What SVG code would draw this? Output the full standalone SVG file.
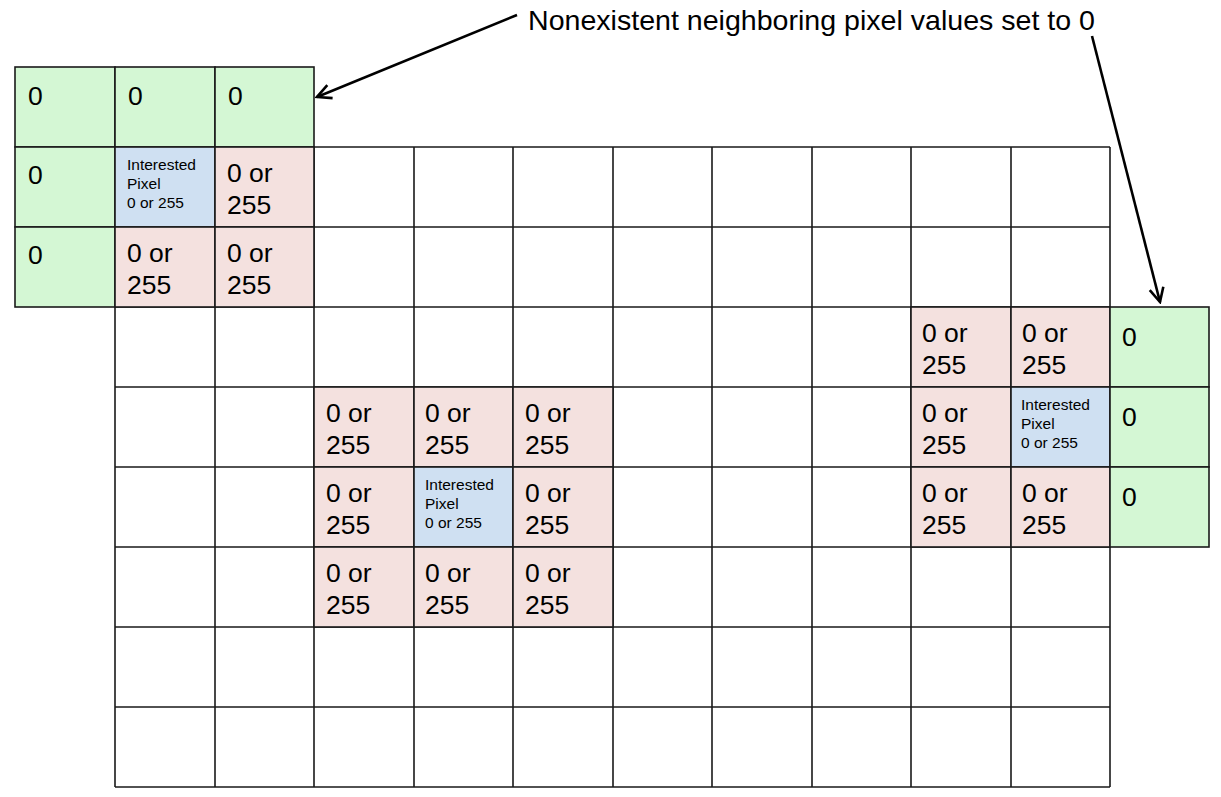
<svg xmlns="http://www.w3.org/2000/svg" width="1221" height="797" viewBox="0 0 1221 797">
<style>
  .g{fill:#d4f7d4;stroke:#1a1a1a;stroke-width:1.6}
  .p{fill:#f4e1df;stroke:#1a1a1a;stroke-width:1.6}
  .b{fill:#cfe0f2;stroke:#1a1a1a;stroke-width:1.6}
  .gl{stroke:#1a1a1a;stroke-width:1.6;fill:none}
  .t{font-family:"Liberation Sans",Arial,sans-serif;font-size:26.5px;fill:#000}
  .s{font-family:"Liberation Sans",Arial,sans-serif;font-size:15.5px;fill:#000}
  .lbl{font-family:"Liberation Sans",Arial,sans-serif;font-size:28px;fill:#000}
  .con{stroke:#000;stroke-width:2.6;fill:none}
</style>
<defs>
  <marker id="ah2" viewBox="0 0 18 18" refX="16" refY="9" markerWidth="18" markerHeight="18" markerUnits="userSpaceOnUse" orient="auto">
    <polyline points="2,2 16,9 2,16" fill="none" stroke="#000" stroke-width="2.6"/>
  </marker>
</defs>
<rect width="1221" height="797" fill="#fff"/>
<g id="grid">
  <path class="gl" d="M115 147V787M215 147V787M314 147V787M414 147V787M513 147V787M613 147V787M712 147V787M812 147V787M911 147V787M1011 147V787M1110 147V787"/>
  <path class="gl" d="M115 147H1110M115 227H1110M115 307H1110M115 387H1110M115 467H1110M115 547H1110M115 627H1110M115 707H1110M115 787H1110"/>
</g>
<g id="topleft">
  <g id="tl-g1"><rect class="g" x="15" y="67" width="100" height="80"/><text class="t" x="28" y="105">0</text></g>
  <g id="tl-g2"><rect class="g" x="115" y="67" width="100" height="80"/><text class="t" x="128" y="105">0</text></g>
  <g id="tl-g3"><rect class="g" x="215" y="67" width="99" height="80"/><text class="t" x="228" y="105">0</text></g>
  <g id="tl-g4"><rect class="g" x="15" y="147" width="100" height="80"/><text class="t" x="28" y="184">0</text></g>
  <g id="tl-g5"><rect class="g" x="15" y="227" width="100" height="80"/><text class="t" x="28" y="264">0</text></g>
  <g id="tl-b"><rect class="b" x="115" y="147" width="100" height="80"/><text class="s" x="127" y="170">Interested</text><text class="s" x="127" y="189">Pixel</text><text class="s" x="127" y="208">0 or 255</text></g>
  <g id="tl-p1"><rect class="p" x="215" y="147" width="99" height="80"/><text class="t" x="227" y="182">0 or</text><text class="t" x="227" y="214">255</text></g>
  <g id="tl-p2"><rect class="p" x="115" y="227" width="100" height="80"/><text class="t" x="127" y="262">0 or</text><text class="t" x="127" y="294">255</text></g>
  <g id="tl-p3"><rect class="p" x="215" y="227" width="99" height="80"/><text class="t" x="227" y="262">0 or</text><text class="t" x="227" y="294">255</text></g>
</g>
<g id="middle">
  <g id="m-p1"><rect class="p" x="314" y="387" width="100" height="80"/><text class="t" x="326" y="422">0 or</text><text class="t" x="326" y="454">255</text></g>
  <g id="m-p2"><rect class="p" x="414" y="387" width="99" height="80"/><text class="t" x="425" y="422">0 or</text><text class="t" x="425" y="454">255</text></g>
  <g id="m-p3"><rect class="p" x="513" y="387" width="100" height="80"/><text class="t" x="525" y="422">0 or</text><text class="t" x="525" y="454">255</text></g>
  <g id="m-p4"><rect class="p" x="314" y="467" width="100" height="80"/><text class="t" x="326" y="502">0 or</text><text class="t" x="326" y="534">255</text></g>
  <g id="m-b"><rect class="b" x="414" y="467" width="99" height="80"/><text class="s" x="425" y="490">Interested</text><text class="s" x="425" y="509">Pixel</text><text class="s" x="425" y="528">0 or 255</text></g>
  <g id="m-p5"><rect class="p" x="513" y="467" width="100" height="80"/><text class="t" x="525" y="502">0 or</text><text class="t" x="525" y="534">255</text></g>
  <g id="m-p6"><rect class="p" x="314" y="547" width="100" height="80"/><text class="t" x="326" y="582">0 or</text><text class="t" x="326" y="614">255</text></g>
  <g id="m-p7"><rect class="p" x="414" y="547" width="99" height="80"/><text class="t" x="425" y="582">0 or</text><text class="t" x="425" y="614">255</text></g>
  <g id="m-p8"><rect class="p" x="513" y="547" width="100" height="80"/><text class="t" x="525" y="582">0 or</text><text class="t" x="525" y="614">255</text></g>
</g>
<g id="right">
  <g id="r-p1"><rect class="p" x="911" y="307" width="100" height="80"/><text class="t" x="922" y="342">0 or</text><text class="t" x="922" y="374">255</text></g>
  <g id="r-p2"><rect class="p" x="1011" y="307" width="99" height="80"/><text class="t" x="1022" y="342">0 or</text><text class="t" x="1022" y="374">255</text></g>
  <g id="r-g1"><rect class="g" x="1110" y="307" width="99" height="80"/><text class="t" x="1122" y="346">0</text></g>
  <g id="r-p3"><rect class="p" x="911" y="387" width="100" height="80"/><text class="t" x="922" y="422">0 or</text><text class="t" x="922" y="454">255</text></g>
  <g id="r-b"><rect class="b" x="1011" y="387" width="99" height="80"/><text class="s" x="1021" y="410">Interested</text><text class="s" x="1021" y="429">Pixel</text><text class="s" x="1021" y="448">0 or 255</text></g>
  <g id="r-g2"><rect class="g" x="1110" y="387" width="99" height="80"/><text class="t" x="1122" y="426">0</text></g>
  <g id="r-p4"><rect class="p" x="911" y="467" width="100" height="80"/><text class="t" x="922" y="502">0 or</text><text class="t" x="922" y="534">255</text></g>
  <g id="r-p5"><rect class="p" x="1011" y="467" width="99" height="80"/><text class="t" x="1022" y="502">0 or</text><text class="t" x="1022" y="534">255</text></g>
  <g id="r-g3"><rect class="g" x="1110" y="467" width="99" height="80"/><text class="t" x="1122" y="506">0</text></g>
</g>
<g id="label">
  <text class="lbl" x="528" y="30" textLength="567" lengthAdjust="spacingAndGlyphs">Nonexistent neighboring pixel values set to 0</text>
</g>
<g id="connectors">
  <line class="con" x1="517" y1="15" x2="317" y2="97" marker-end="url(#ah2)"/>
  <line class="con" x1="1092" y1="36" x2="1160" y2="302" marker-end="url(#ah2)"/>
</g>
</svg>
